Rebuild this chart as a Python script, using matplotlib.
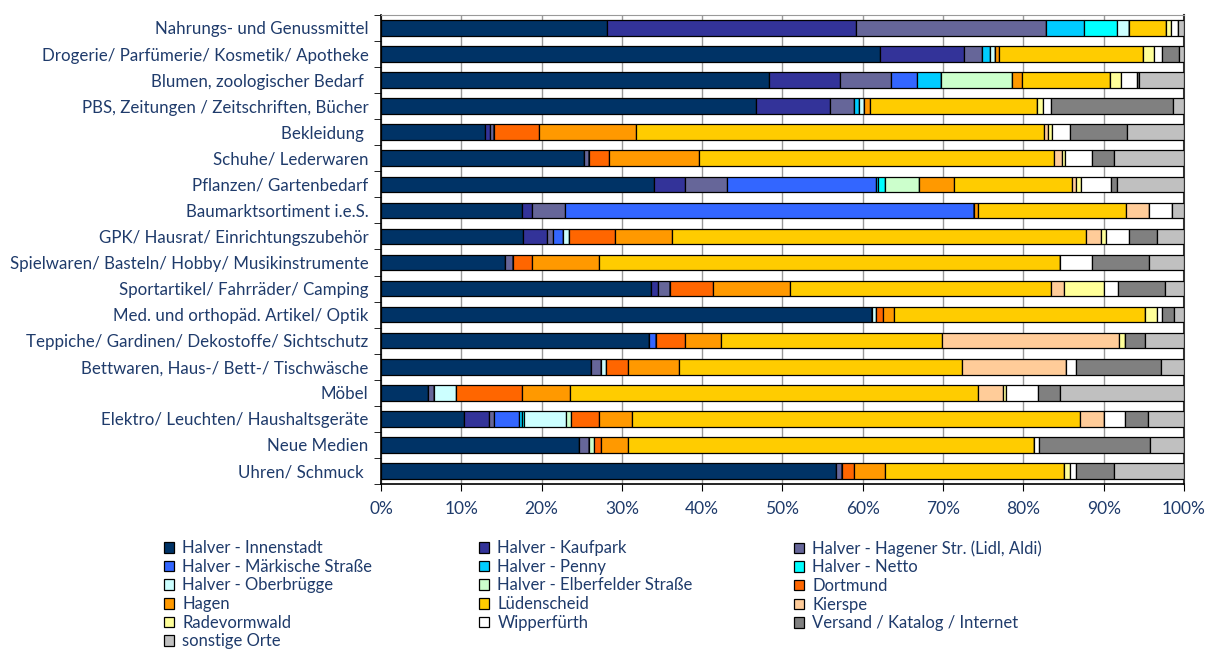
import matplotlib
matplotlib.use("Agg")
import matplotlib.pyplot as plt
from matplotlib.ticker import MultipleLocator, FuncFormatter
import numpy as np

plt.rcParams['font.family'] = ['Lato', 'DejaVu Sans']

categories = [
    "Nahrungs- und Genussmittel",
    "Drogerie/ Parfümerie/ Kosmetik/ Apotheke",
    "Blumen, zoologischer Bedarf ",
    "PBS, Zeitungen / Zeitschriften, Bücher",
    "Bekleidung ",
    "Schuhe/ Lederwaren",
    "Pflanzen/ Gartenbedarf",
    "Baumarktsortiment i.e.S.",
    "GPK/ Hausrat/ Einrichtungszubehör",
    "Spielwaren/ Basteln/ Hobby/ Musikinstrumente",
    "Sportartikel/ Fahrräder/ Camping",
    "Med. und orthopäd. Artikel/ Optik",
    "Teppiche/ Gardinen/ Dekostoffe/ Sichtschutz",
    "Bettwaren, Haus-/ Bett-/ Tischwäsche",
    "Möbel",
    "Elektro/ Leuchten/ Haushaltsgeräte",
    "Neue Medien",
    "Uhren/ Schmuck ",
]

series = [
    "Halver - Innenstadt", "Halver - Kaufpark", "Halver - Hagener Str. (Lidl, Aldi)",
    "Halver - Märkische Straße", "Halver - Penny", "Halver - Netto",
    "Halver - Oberbrügge", "Halver - Elberfelder Straße", "Dortmund",
    "Hagen", "Lüdenscheid", "Kierspe",
    "Radevormwald", "Wipperfürth", "Versand / Katalog / Internet",
    "sonstige Orte",
]

colors = ["#003366", "#333399", "#666699", "#3366FF", "#00CCFF", "#00FFFF",
          "#CCFFFF", "#CCFFCC", "#FF6600", "#FF9900", "#FFCC00", "#FFCC99",
          "#FFFF99", "#FFFFFF", "#808080", "#C0C0C0"]

# shares in % per category, order of series above
innenstadt   = [28.1, 62.1, 48.3, 46.7, 13.0, 25.3, 34.0, 17.5, 17.7, 15.4, 33.6, 61.2, 33.4, 26.2, 5.9, 10.3, 24.7, 56.7]
kaufpark     = [31.0, 10.5, 8.8, 9.2, 0.6, 0, 3.9, 1.3, 3.0, 0, 0.9, 0, 0, 0, 0, 3.1, 0, 0]
hagener      = [23.7, 2.2, 6.4, 3.0, 0.5, 0.6, 5.2, 4.1, 0.7, 1.0, 1.5, 0, 0, 1.2, 0.7, 0.7, 1.2, 0.7]
maerkische   = [0, 0, 3.2, 0, 0, 0, 18.5, 50.9, 1.3, 0, 0, 0, 0.9, 0, 0, 3.1, 0, 0]
penny        = [4.7, 1.0, 3.0, 0.6, 0, 0, 0.3, 0, 0, 0, 0, 0, 0, 0, 0, 0.3, 0, 0]
netto        = [4.2, 0, 0, 0, 0, 0, 0.9, 0, 0, 0, 0, 0, 0, 0, 0, 0.3, 0, 0]
oberbruegge  = [1.4, 0.7, 0, 0.7, 0, 0, 0, 0, 0.7, 0, 0, 0.5, 0, 0.6, 2.7, 5.2, 0, 0]
elberfelder  = [0, 0, 8.9, 0, 0, 0, 4.2, 0, 0, 0, 0, 0, 0, 0, 0, 0.7, 0.6, 0]
dortmund     = [0, 0, 0, 0, 5.6, 2.5, 0, 0, 5.8, 2.4, 5.3, 0.8, 3.5, 2.8, 8.3, 3.4, 0.9, 1.5]
hagen        = [0, 0.5, 1.2, 0.7, 12.0, 11.2, 4.4, 0.5, 7.0, 8.4, 9.6, 1.4, 4.6, 6.3, 5.9, 4.2, 3.3, 3.9]
luedenscheid = [4.6, 17.9, 11.0, 20.8, 50.9, 44.2, 14.7, 18.5, 51.6, 57.4, 32.6, 31.2, 27.5, 35.3, 50.8, 55.7, 50.6, 22.2]
kierspe      = [0, 0, 0, 0, 0.5, 1.0, 0.4, 2.8, 1.9, 0, 1.5, 0, 22.0, 12.9, 3.2, 3.1, 0, 0]
radevormwald = [0.7, 1.4, 1.4, 0.8, 0.5, 0.4, 0.7, 0, 0.6, 0, 5.0, 1.6, 0.8, 0, 0.3, 0, 0, 0.8]
wipperfuerth = [0.8, 0.9, 1.9, 1.0, 2.2, 3.3, 3.7, 2.9, 2.8, 3.9, 1.8, 0.5, 0, 1.2, 4.0, 2.6, 0.7, 0.7]
versand      = [0, 2.2, 0.3, 15.1, 7.1, 2.8, 0.8, 0, 3.5, 7.1, 5.8, 1.6, 2.4, 10.6, 2.7, 2.8, 13.8, 4.8]
sonstige     = [0.8, 0.6, 5.6, 1.4, 7.1, 8.7, 8.3, 1.5, 3.4, 4.4, 2.4, 1.2, 4.9, 2.9, 15.5, 4.5, 4.2, 8.7]

values = [innenstadt, kaufpark, hagener, maerkische, penny, netto, oberbruegge,
          elberfelder, dortmund, hagen, luedenscheid, kierspe, radevormwald,
          wipperfuerth, versand, sonstige]

text_col = "#1F3B6B"

fig = plt.figure(figsize=(12.11, 6.5), dpi=100)
ax = fig.add_axes([0.3146, 0.2554, 0.6631, 0.7216])

data = np.array(values, dtype=float)
data = data / data.sum(axis=0) * 100
y = np.arange(len(categories))
left = np.zeros(len(categories))
handles = []
for i, name in enumerate(series):
    h = ax.barh(y, data[i], left=left, height=0.6, color=colors[i],
                edgecolor="black", linewidth=0.9, label=name, zorder=3)
    handles.append(h)
    left += data[i]

ax.set_xlim(0, 100)
ax.set_ylim(len(categories) - 0.5, -0.5)
ax.xaxis.set_major_locator(MultipleLocator(10))
ax.xaxis.set_major_formatter(FuncFormatter(lambda v, p: f"{v:.0f}%"))
ax.grid(axis="x", color="#999999", linewidth=1.0, zorder=0)
ax.set_yticks(y)
ax.set_yticklabels(categories)
ax.set_yticks(np.arange(len(categories) + 1) - 0.5, minor=True)
ax.tick_params(axis="y", which="major", length=0, pad=9, labelsize=12.2, labelcolor=text_col)
ax.tick_params(axis="y", which="minor", length=5, direction="out", color="black")
ax.tick_params(axis="x", length=5, direction="out", labelsize=12.5, labelcolor=text_col, pad=7)

ax.spines["top"].set_color("#999999")
ax.spines["right"].set_color("#333333")
ax.spines["right"].set_linewidth(1.5)
ax.spines["left"].set_linewidth(1.2)
ax.spines["bottom"].set_linewidth(1.2)

# legend filled row by row, three fixed columns
col_x = [164 / 1211, 479 / 1211, 794 / 1211]
for c in range(3):
    idx = list(range(c, len(series), 3))
    leg = fig.legend([handles[i] for i in idx], [series[i] for i in idx],
                     ncol=1, loc="upper left", bbox_to_anchor=(col_x[c], 0.169),
                     frameon=False, fontsize=12, handlelength=0.6, handleheight=0.6,
                     handletextpad=0.5, labelspacing=0.16,
                     borderaxespad=0, borderpad=0)
    for t in leg.get_texts():
        t.set_color(text_col)

fig.savefig("out.png", dpi=100)
